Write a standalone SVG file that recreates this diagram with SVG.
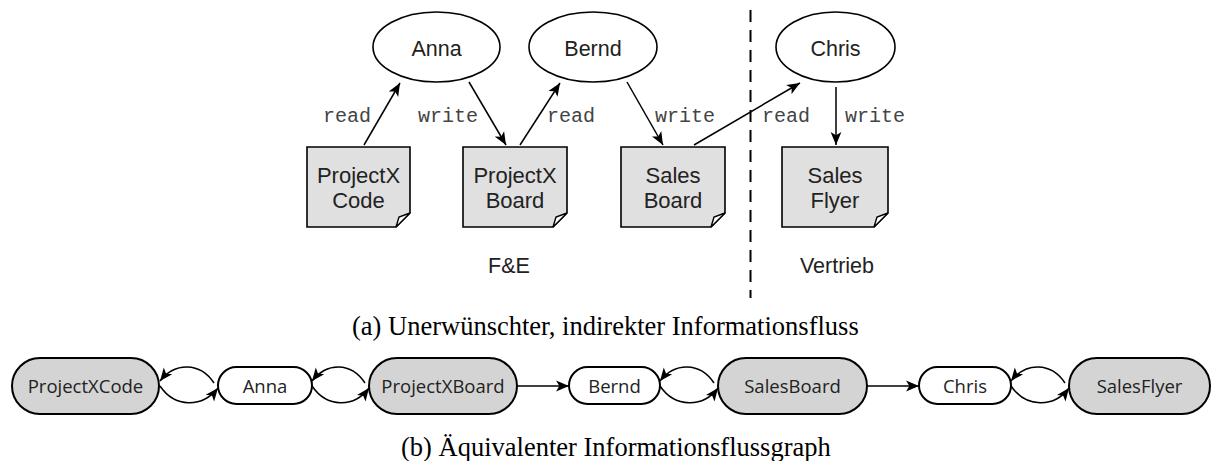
<svg xmlns="http://www.w3.org/2000/svg" width="1214" height="461" viewBox="0 0 1214 461">
<style>
.ell{fill:#fff;stroke:#000;stroke-width:1.6}
.doc{fill:#e0e0e0;stroke:#000;stroke-width:1.6;stroke-linejoin:miter}
.fold{fill:#fff;stroke:#000;stroke-width:1.4}
.t{font-family:"Liberation Sans",Arial,sans-serif;font-size:21.5px;fill:#222;text-anchor:middle}
.lbl{font-family:"Liberation Mono","Courier New",monospace;font-size:20px;fill:#444}
.cap{font-family:"Liberation Serif","Times New Roman",serif;font-size:26.5px;fill:#000}
.pillg{fill:#d4d4d4;stroke:#000;stroke-width:2}
.pillw{fill:#fff;stroke:#000;stroke-width:2}
.pt{font-family:"Open Sans","Noto Sans",sans-serif;font-size:18.5px;fill:#222;text-anchor:middle}
.e{fill:none;stroke:#000;stroke-width:1.5;marker-end:url(#ah)}
</style>
<defs>
<marker id="ah" markerUnits="userSpaceOnUse" markerWidth="14" markerHeight="12" refX="12" refY="5" orient="auto" viewBox="0 0 13 10">
<path d="M0,0 L12,5 L0,10 L3,5 z" fill="#000"/>
</marker>
</defs>

<line x1="750.5" y1="10" x2="750.5" y2="298" stroke="#000" stroke-width="2" stroke-dasharray="12,8"/>

<g id="anna"><ellipse class="ell" cx="436.5" cy="47" rx="63.5" ry="35"/><text class="t" x="436.5" y="56">Anna</text></g>
<g id="bernd"><ellipse class="ell" cx="593" cy="47" rx="64" ry="35"/><text class="t" x="593" y="56">Bernd</text></g>
<g id="chris"><ellipse class="ell" cx="835.5" cy="47" rx="59.5" ry="35"/><text class="t" x="835.5" y="56">Chris</text></g>

<g id="projectx-code">
<path class="doc" d="M307,147 H410 V213 L396,227 H307 Z"/>
<path class="fold" d="M396,227 L399,217 L410,213 Z"/>
<text class="t" x="358.5" y="183" style="font-size:22px">ProjectX</text>
<text class="t" x="358.5" y="208" style="font-size:22px">Code</text>
</g>
<g id="projectx-board">
<path class="doc" d="M463,147 H567 V213 L553,227 H463 Z"/>
<path class="fold" d="M553,227 L556,217 L567,213 Z"/>
<text class="t" x="515" y="183" style="font-size:22px">ProjectX</text>
<text class="t" x="515" y="208" style="font-size:22px">Board</text>
</g>
<g id="sales-board">
<path class="doc" d="M621,147 H725 V213 L711,227 H621 Z"/>
<path class="fold" d="M711,227 L714,217 L725,213 Z"/>
<text class="t" x="673" y="183" style="font-size:22px">Sales</text>
<text class="t" x="673" y="208" style="font-size:22px">Board</text>
</g>
<g id="sales-flyer">
<path class="doc" d="M782,147 H888 V213 L874,227 H782 Z"/>
<path class="fold" d="M874,227 L877,217 L888,213 Z"/>
<text class="t" x="835" y="183" style="font-size:22px">Sales</text>
<text class="t" x="835" y="208" style="font-size:22px">Flyer</text>
</g>

<g id="connectors-top">
<line class="e" x1="364" y1="145" x2="400" y2="83"/>
<line class="e" x1="469" y1="82" x2="506" y2="145"/>
<line class="e" x1="520" y1="145" x2="560" y2="83"/>
<line class="e" x1="627" y1="82" x2="663" y2="145"/>
<line class="e" x1="694" y1="145" x2="800" y2="83"/>
<line class="e" x1="836" y1="87" x2="836" y2="145"/>
<text class="lbl" x="323" y="122">read</text>
<text class="lbl" x="418" y="122">write</text>
<text class="lbl" x="547" y="122">read</text>
<text class="lbl" x="655" y="122">write</text>
<text class="lbl" x="762" y="122">read</text>
<text class="lbl" x="845" y="122">write</text>
</g>

<text class="t" x="509" y="273">F&amp;E</text>
<text class="t" x="837" y="273">Vertrieb</text>
<text class="cap" x="352" y="335">(a)  Unerwünschter, indirekter Informationsfluss</text>

<g id="n-projectxcode"><rect class="pillg" x="12" y="358" width="147" height="56" rx="28"/><text class="pt" x="85.5" y="393">ProjectXCode</text></g>
<g id="n-anna"><rect class="pillw" x="218" y="367" width="94" height="37" rx="18.5"/><text class="pt" x="265" y="393">Anna</text></g>
<g id="n-projectxboard"><rect class="pillg" x="369" y="358" width="148" height="56" rx="28"/><text class="pt" x="443" y="393">ProjectXBoard</text></g>
<g id="n-bernd"><rect class="pillw" x="569" y="367" width="91" height="37" rx="18.5"/><text class="pt" x="614.5" y="393">Bernd</text></g>
<g id="n-salesboard"><rect class="pillg" x="718" y="358" width="149" height="56" rx="28"/><text class="pt" x="792.5" y="393">SalesBoard</text></g>
<g id="n-chris"><rect class="pillw" x="919" y="367" width="92" height="37" rx="18.5"/><text class="pt" x="965" y="393">Chris</text></g>
<g id="n-salesflyer"><rect class="pillg" x="1069" y="358" width="141" height="56" rx="28"/><text class="pt" x="1139.5" y="393">SalesFlyer</text></g>

<g id="connectors-bottom">
<path class="e" d="M214,383 C200,362 175,362 160,381"/>
<path class="e" d="M160,386 C175,408 202,408 218,388"/>
<path class="e" d="M365,383 C351,362 327,362 312,381"/>
<path class="e" d="M312,386 C327,408 354,408 369,388"/>
<path class="e" d="M517,386 L569,386"/>
<path class="e" d="M714,383 C700,362 675,362 660,381"/>
<path class="e" d="M660,386 C675,408 703,408 718,388"/>
<path class="e" d="M867,386 L919,386"/>
<path class="e" d="M1065,383 C1051,362 1026,362 1011,381"/>
<path class="e" d="M1011,386 C1026,408 1054,408 1069,388"/>
</g>

<text class="cap" x="401" y="456">(b)  Äquivalenter Informationsflussgraph</text>
</svg>
